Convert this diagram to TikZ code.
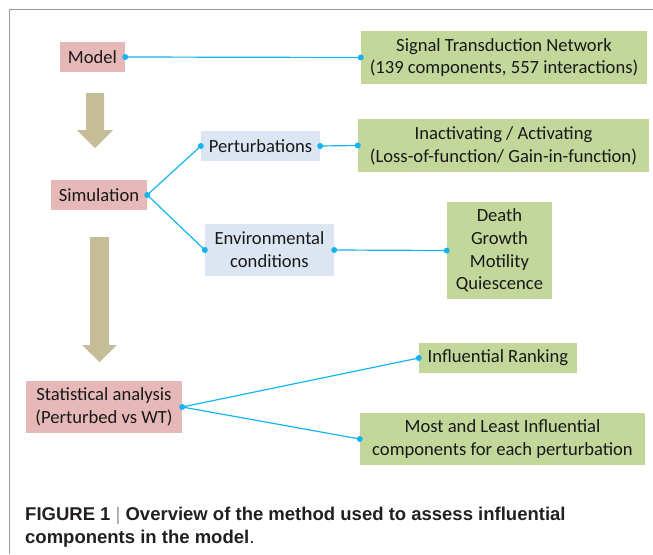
\documentclass[tikz,border=0pt]{standalone}
\usepackage{fontspec}
\setmainfont{Carlito}
\newfontfamily\capfont{Liberation Sans}
\definecolor{boxred}{HTML}{E6B9B8}
\definecolor{boxgreen}{HTML}{C4D79B}
\definecolor{boxblue}{HTML}{DCE6F2}
\definecolor{linkblue}{HTML}{14B4EE}
\definecolor{arrowtan}{HTML}{C4BD97}
\definecolor{framegray}{HTML}{9A9A9A}
\definecolor{captext}{HTML}{231F20}
\begin{document}
\begin{tikzpicture}[x=1pt,y=-1pt,
        box/.style={inner sep=0pt, align=center, text=black!90,
          font=\fontsize{18.6}{22.8}\selectfont},
        redbox/.style={box, fill=boxred},
        greenbox/.style={box, fill=boxgreen},
        bluebox/.style={box, fill=boxblue},
        link/.style={draw=linkblue, line width=1.2pt},
        dot/.style={fill=linkblue}]
        \useasboundingbox (0,0) rectangle (653,554);
        \draw[framegray, line width=1pt] (9,554) -- (9,9) -- (653,9);

        \node[redbox, minimum width=65pt, minimum height=30pt] (model) at (92.5,57) {Model};
        \node[greenbox, minimum width=286pt, minimum height=53pt] (network) at (504,57.5)
          {Signal Transduction Network\\(139 components, 557 interactions)};
        \node[redbox, minimum width=96pt, minimum height=30pt] (simulation) at (99,195) {Simulation};
        \node[bluebox, minimum width=119pt, minimum height=30pt] (perturb) at (260.5,146) {Perturbations};
        \node[greenbox, minimum width=291pt, minimum height=53pt] (activate) at (503.5,145.5)
          {Inactivating / Activating\\(Loss-of-function/ Gain-in-function)};
        \node[bluebox, minimum width=129pt, minimum height=52pt] (environ) at (269.5,250)
          {Environmental\\conditions};
        \node[greenbox, minimum width=105pt, minimum height=97pt] (fates) at (499.5,250.5)
          {Death\\Growth\\Motility\\Quiescence};
        \node[redbox, minimum width=156pt, minimum height=52pt] (stats) at (104,407)
          {Statistical analysis\\(Perturbed vs WT)};
        \node[greenbox, minimum width=158pt, minimum height=30pt] (ranking) at (498,358)
          {Influential Ranking};
        \node[greenbox, minimum width=285pt, minimum height=52pt] (extremes) at (502.5,439)
          {Most and Least Influential\\components for each perturbation};

        \fill[arrowtan] (86,93) -- (104,93) -- (104,130) -- (113,130) -- (95,148)
          -- (77,130) -- (86,130) -- cycle;
        \fill[arrowtan] (90,237) -- (109,237) -- (109,345) -- (117,345) -- (99.5,362)
          -- (82,345) -- (90,345) -- cycle;

        \draw[link] (model.east) -- (network.west);
        \draw[link] (simulation.east) -- (perturb.west);
        \draw[link] (simulation.east) -- (environ.west);
        \draw[link] (perturb.east) -- (activate.west);
        \draw[link] (environ.east) -- (fates.west);
        \draw[link] (stats.east) -- (ranking.west);
        \draw[link] (stats.east) -- (extremes.west);

        \foreach \p in {model.east, network.west, simulation.east, perturb.west, perturb.east,
          activate.west, environ.west, environ.east, fates.west, stats.east, ranking.west,
          extremes.west}
          \fill[dot] (\p) circle (3pt);

        \node[anchor=base west, inner sep=0pt, align=left, text=captext,
          font=\capfont\bfseries\fontsize{18.5}{23}\selectfont] (caption) at (25,543)
          {FIGURE 1 {\color{framegray}\mdseries|} Overview of the method used to assess influential\\
           components in the model{\mdseries.}};
      \end{tikzpicture}
\end{document}
